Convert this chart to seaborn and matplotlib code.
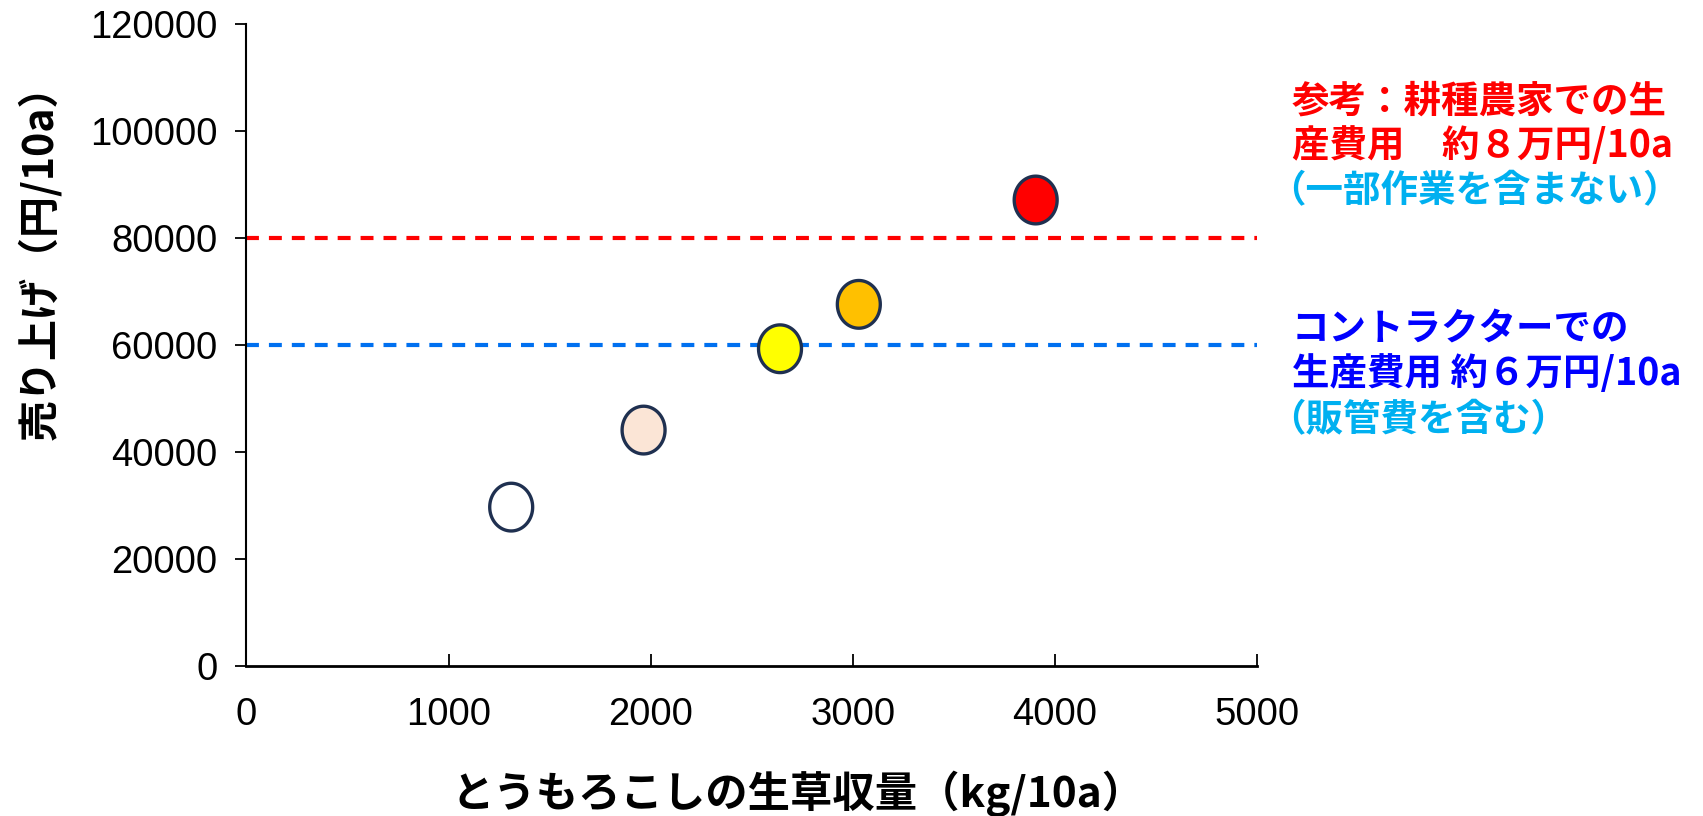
import numpy as np
import pandas as pd
import matplotlib
matplotlib.use("Agg")
import matplotlib.pyplot as plt
from matplotlib.path import Path
import seaborn as sns

# ---- data ----
yield_kg = [1310, 1965, 2640, 3030, 3905]
sales_yen = [29700, 44100, 59300, 67600, 87100]
point_colors = ["#FFFFFF", "#FBE5D6", "#FFFF00", "#FFC000", "#FF0000"]
ref_levels = [80000, 60000]
ref_colors = ["#FF0000", "#0070F0"]
x_ticks = [0, 1000, 2000, 3000, 4000, 5000]
y_ticks = [0, 20000, 40000, 60000, 80000, 100000, 120000]
xlabel = "とうもろこしの生草収量（kg/10a）"
ylabel = "売り上げ（円/10a）"
note_red = ["参考：耕種農家での生", "産費用　約８万円/10a"]
note_red_sub = "（一部作業を含まない）"
note_blue = ["コントラクターでの", "生産費用 約６万円/10a"]
note_blue_sub = "（販管費を含む）"

sns.set_theme(style="white")
plt.rcParams["font.family"] = ["Noto Sans CJK JP", "DejaVu Sans"]
plt.rcParams["text.color"] = "black"
plt.rcParams["axes.labelcolor"] = "black"
plt.rcParams["xtick.color"] = "black"
plt.rcParams["ytick.color"] = "black"

fig = plt.figure(figsize=(17.03, 8.16), dpi=100)
ax = fig.add_axes([0.1447, 0.1838, 0.7381 - 0.1447, 0.9706 - 0.1838])

# ellipse marker (slightly taller than wide)
t = np.linspace(0, 2 * np.pi, 100)
ell = Path(np.column_stack([0.9 * np.cos(t), np.sin(t)]), closed=True)

df = pd.DataFrame({"x": yield_kg, "y": sales_yen, "k": [str(i) for i in range(len(yield_kg))]})
for lv, col in zip(ref_levels, ref_colors):
    ax.axhline(lv, color=col, lw=3, ls=(0, (3.1, 2.4)), zorder=1)

sns.scatterplot(data=df, x="x", y="y", hue="k", palette=point_colors, marker=ell,
                s=1180, edgecolor="#1F3050", linewidth=2.4, legend=False, ax=ax, zorder=3)

ax.set_xlim(0, 5000)
ax.set_ylim(0, 120000)
ax.set_xticks(x_ticks)
ax.set_yticks(y_ticks)
ax.set_xticklabels([str(v) for v in x_ticks], fontsize=27.5, family=["Liberation Sans"], color="black")
ax.set_yticklabels([str(v) for v in y_ticks], fontsize=27.5, family=["Liberation Sans"], color="black")
ax.tick_params(axis="y", direction="out", length=8, width=1.3, color="black", pad=13, left=True)
ax.tick_params(axis="x", direction="in", length=9, width=1.3, color="black", pad=22, bottom=True)
for s in ["top", "right"]:
    ax.spines[s].set_visible(False)
ax.spines["left"].set_color("black")
ax.spines["left"].set_linewidth(1.5)
ax.spines["bottom"].set_color("black")
ax.spines["bottom"].set_linewidth(2.0)
ax.grid(False)

ax.set_xlabel(xlabel, fontsize=30.5, fontweight="bold", color="black")
ax.xaxis.set_label_coords(0.546, -0.163)
ax.set_ylabel(ylabel, fontsize=29.5, fontweight="bold", color="black")
ax.yaxis.set_label_coords(-0.183, 0.645)

fx = 1292 / 1703
def fy(px):
    return 1 - px / 816

fs = 27
fig.text(fx, fy(101), note_red[0], color="#FF0000", fontsize=fs, fontweight="bold", va="center")
fig.text(fx, fy(146), note_red[1], color="#FF0000", fontsize=fs, fontweight="bold", va="center")
fig.text(fx - 0.014, fy(191), note_red_sub, color="#00B0F0", fontsize=fs, fontweight="bold", va="center")
fig.text(fx, fy(328), note_blue[0], color="#0000FF", fontsize=fs, fontweight="bold", va="center")
fig.text(fx, fy(374), note_blue[1], color="#0000FF", fontsize=fs, fontweight="bold", va="center")
fig.text(fx - 0.014, fy(420), note_blue_sub, color="#00B0F0", fontsize=fs, fontweight="bold", va="center")

fig.savefig("out.png", dpi=100, facecolor="white")
